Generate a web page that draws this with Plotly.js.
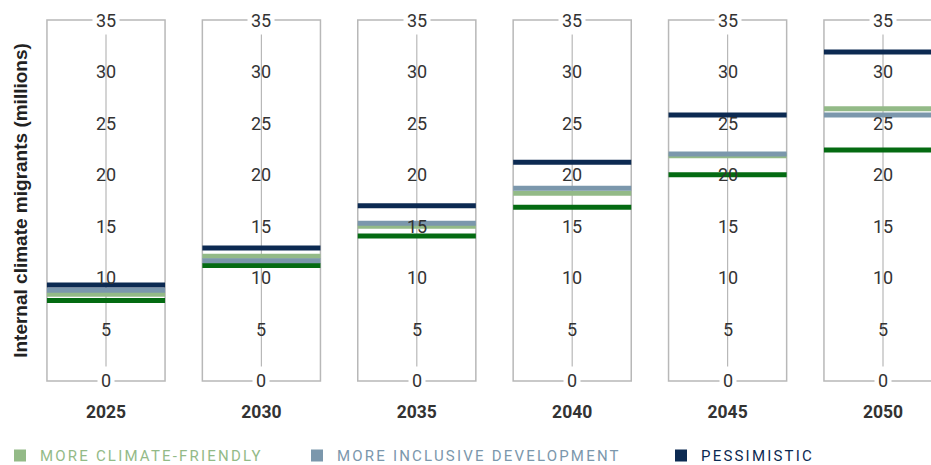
<!DOCTYPE html>
<html><head><meta charset="utf-8">
<script src="https://cdn.plot.ly/plotly-3.0.1.min.js"></script>
<style>html,body{margin:0;padding:0;background:#fff}#chart{width:931px;height:465px}</style>
</head><body><div id="chart"></div><script>
const years = ['2025', '2030', '2035', '2040', '2045', '2050'];
const climateFriendly = [8.4, 12.1, 15.0, 18.2, 21.85, 26.4];
const inclusiveDev = [8.8, 11.65, 15.3, 18.7, 22.0, 25.8];
const pessimistic = [9.3, 12.9, 17.0, 21.2, 25.8, 31.9];
const optimistic = [7.8, 11.2, 14.05, 16.85, 20.0, 22.4];
const tickValues = [0, 5, 10, 15, 20, 25, 30, 35];
const tickLabels = ['0', '5', '10', '15', '20', '25', '30', '35'];
const seriesNames = ['MORE CLIMATE-FRIENDLY', 'MORE INCLUSIVE DEVELOPMENT', 'PESSIMISTIC'];

const C_CF = '#93ba87', C_INC = '#7b97ac', C_PES = '#0c2a52', C_OPT = '#046b12';
const HW = 0.38;
const idx = years.map((_, i) => i);

function segs(vals) {
  const x = [], y = [];
  vals.forEach((v, i) => { x.push(i - HW, i + HW, null); y.push(v, v, null); });
  return {x, y};
}
function lineTrace(vals, color, name) {
  const s = segs(vals);
  return {type: 'scatter', mode: 'lines', x: s.x, y: s.y, name: name, showlegend: false,
          line: {color: color, width: 5}, hoverinfo: 'skip'};
}
function legendTrace(name, color, leg) {
  return {type: 'scatter', mode: 'markers', x: [null], y: [null], legend: leg, showlegend: true,
          name: '<span style="letter-spacing:2.2px">' + name + '</span>',
          marker: {symbol: 'square', size: 12, color: color}};
}

const data = [
  lineTrace(optimistic, C_OPT, 'OPTIMISTIC'),
  lineTrace(climateFriendly, C_CF, seriesNames[0]),
  lineTrace(inclusiveDev, C_INC, seriesNames[1]),
  lineTrace(pessimistic, C_PES, seriesNames[2]),
  legendTrace(seriesNames[0], C_CF, 'legend'),
  legendTrace(seriesNames[1], C_INC, 'legend2'),
  legendTrace(seriesNames[2], C_PES, 'legend3')
];

const shapes = [];
idx.forEach(i => {
  shapes.push({type: 'rect', xref: 'x', yref: 'y', x0: i - HW, x1: i + HW, y0: 0, y1: 35,
               line: {color: '#b8b8b8', width: 1.5}, layer: 'below'});
  shapes.push({type: 'line', xref: 'x', yref: 'y', x0: i, x1: i, y0: 0.9, y1: 34.2,
               line: {color: '#b8b8b8', width: 1.2}, layer: 'below'});
});

const annotations = [];
idx.forEach(i => {
  tickValues.forEach((t, j) => {
    const end = (j === 0 || j === tickValues.length - 1);
    annotations.push({x: i, y: t, xref: 'x', yref: 'y', text: tickLabels[j], showarrow: false,
      font: {family: 'Roboto', size: 18, color: '#333'},
      bgcolor: end ? '#ffffff' : 'rgba(0,0,0,0)', borderpad: 3});
  });
});

function legendCfg(x, color) {
  return {orientation: 'h', xref: 'container', yref: 'container', x: x, y: 0.02,
          xanchor: 'left', yanchor: 'middle', bgcolor: 'rgba(0,0,0,0)',
          font: {family: 'Roboto', size: 15, color: color}};
}

const layout = {
  width: 931, height: 465,
  margin: {l: 40, r: 0, t: 18, b: 82},
  paper_bgcolor: '#fff', plot_bgcolor: '#fff',
  showlegend: true,
  xaxis: {range: [-(106 - 40) / 155.4, (931 - 106) / 155.4], tickvals: idx, ticktext: years,
          tickfont: {family: 'Roboto', size: 17.5, color: '#333', weight: 'bold'},
          showgrid: false, zeroline: false, showline: false,
          ticks: 'outside', ticklen: 13, tickcolor: 'rgba(0,0,0,0)'},
  yaxis: {range: [-0.2, 35.2], showticklabels: false, showgrid: false, zeroline: false, showline: false,
          title: {text: 'Internal climate migrants (millions)', standoff: 6,
                  font: {family: 'Liberation Sans', size: 19, color: '#222', weight: 'bold'}}},
  shapes: shapes,
  annotations: annotations,
  legend: legendCfg(-5 / 931, C_CF),
  legend2: legendCfg(297 / 931, C_INC),
  legend3: legendCfg(661 / 931, C_PES)
};

Plotly.newPlot('chart', data, layout, {displayModeBar: false, staticPlot: true});
</script></body></html>
